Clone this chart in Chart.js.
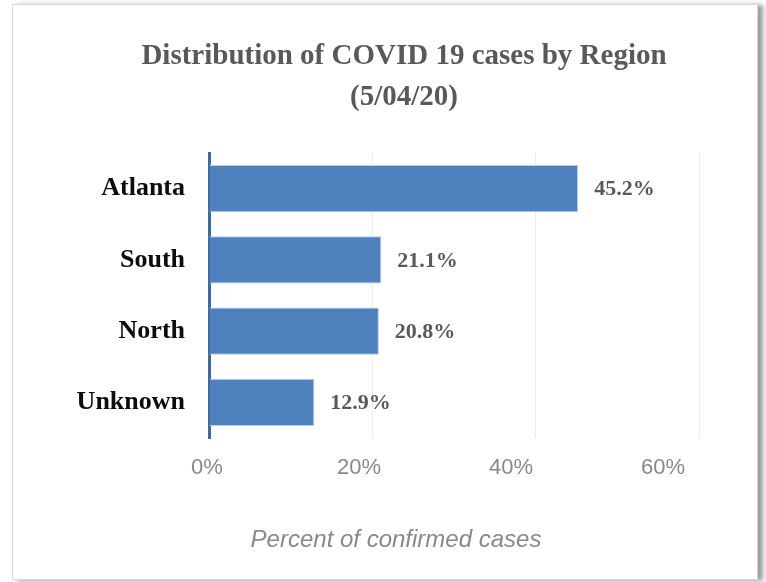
<!doctype html>
<html lang="en">
<head>
  <meta charset="utf-8">
  <title>Distribution of COVID 19 cases by Region</title>
  <script src="https://cdn.jsdelivr.net/npm/chart.js"></script>
  <style>
    html, body { margin: 0; padding: 0; background: #fff; }
    #frame {
      position: absolute; left: 12px; top: 4px; width: 744px; height: 574px;
      border: 1px solid #d9d9d9; box-shadow: 5px 1px 5px #9a9a9a; background: #fff;
    }
    #chart { position: absolute; left: 0; top: 0; }
  </style>
</head>
<body>
  <div id="frame"></div>
  <canvas id="chart" width="766" height="582"></canvas>

  <script>
    const regions = ['Atlanta', 'South', 'North', 'Unknown'];
    const percentCases = [45.2, 21.1, 20.8, 12.9];
    const xTicks = [0, 20, 40, 60];
    const titleLines = ['Distribution of COVID 19 cases by Region', '(5/04/20)'];
    const xTitle = 'Percent of confirmed cases';

    // value labels next to bars, plus title and axis title (placed like the Excel original)
    const extraText = {
      id: 'extraText',
      afterDatasetsDraw(chart) {
        const ctx = chart.ctx;
        const meta = chart.getDatasetMeta(0);
        ctx.save();
        ctx.font = 'bold 22px "Liberation Serif", serif';
        ctx.fillStyle = '#595959';
        ctx.textAlign = 'left';
        ctx.textBaseline = 'middle';
        meta.data.forEach((bar, i) => {
          ctx.fillText(percentCases[i].toFixed(1) + '%', bar.x + 16, bar.y + 1);
        });

        ctx.textAlign = 'center';
        ctx.font = 'bold 29px "Liberation Serif", serif';
        ctx.fillText(titleLines[0], 404, 57);
        ctx.fillText(titleLines[1], 404, 98);

        ctx.fillStyle = '#898989';
        ctx.font = 'italic 24px "Liberation Sans", Arial, sans-serif';
        ctx.fillText(xTitle, 396, 540);
        ctx.restore();
      }
    };

    const ctx = document.getElementById('chart').getContext('2d');
    new Chart(ctx, {
      type: 'bar',
      data: {
        labels: regions,
        datasets: [{
          data: percentCases,
          backgroundColor: '#4f81bd',
          borderColor: '#b9cde6',
          borderWidth: 1,
          borderSkipped: 'left',
          barPercentage: 0.66,
          categoryPercentage: 1,
          xAxisID: 'x'
        }]
      },
      options: {
        indexAxis: 'y',
        responsive: false,
        animation: false,
        layout: { padding: { top: 153, left: 12, right: 67, bottom: 10 } },
        plugins: {
          legend: { display: false },
          tooltip: { enabled: false },
          title: { display: false }
        },
        scales: {
          x: {
            min: 0,
            max: 60,
            afterBuildTicks: s => { s.ticks = xTicks.map(v => ({ value: v })); },
            afterFit: s => { s.height = 0; },
            grid: {
              drawTicks: false,
              color: c => c.tick && c.tick.value === 0 ? 'rgba(0,0,0,0)' : '#ececec'
            },
            border: { display: false },
            ticks: { display: false }
          },
          // label axis: Excel draws its tick labels slightly left of the gridlines
          x2: {
            type: 'linear',
            position: 'bottom',
            min: 0.263,
            max: 64.74,
            afterBuildTicks: s => { s.ticks = xTicks.map(v => ({ value: v })); },
            afterFit: s => { s.height = 134; },
            grid: { display: false, drawTicks: false },
            border: { display: false },
            ticks: {
              padding: 17,
              color: '#898989',
              font: { family: '"Liberation Sans", Arial, sans-serif', size: 22 },
              callback: v => v + '%'
            }
          },
          y: {
            afterFit: s => { s.width = 197; },
            grid: { display: false, drawTicks: false },
            border: { display: true, color: '#41699c', width: 3 },
            ticks: {
              padding: 24,
              color: '#0d0d0d',
              font: { family: '"Liberation Serif", serif', size: 26, weight: 'bold' }
            }
          }
        }
      },
      plugins: [extraText]
    });
  </script>
</body>
</html>
